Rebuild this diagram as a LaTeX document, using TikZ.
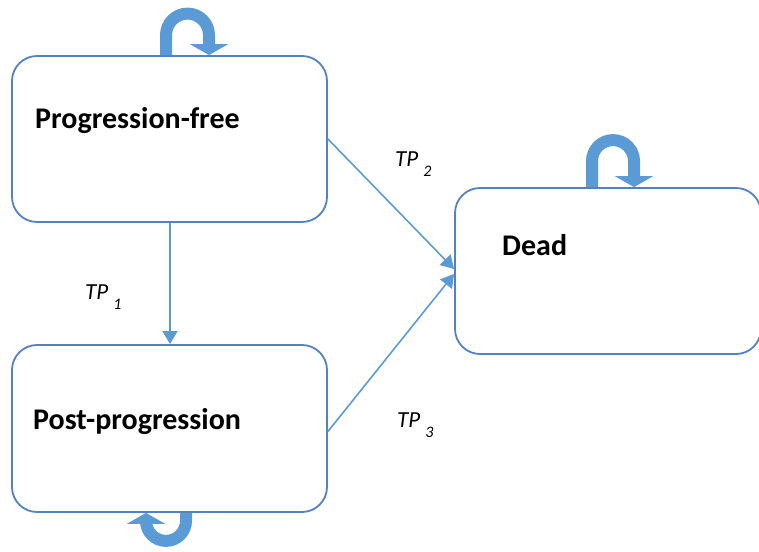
\documentclass[tikz,border=0pt]{standalone}
\usepackage{fontspec}
\setmainfont{Carlito}
\usetikzlibrary{arrows.meta}

\definecolor{boxline}{RGB}{84,130,190}
\definecolor{flowblue}{RGB}{91,155,213}

\newcommand{\tp}[1]{{\itshape TP}\hspace{5pt}\raisebox{-10pt}{\fontsize{16}{16}\selectfont\itshape #1}}

\begin{document}
\begin{tikzpicture}[x=1pt, y=1pt,
  statebox/.style={draw=boxline, line width=1.8pt, rectangle, rounded corners=25pt, fill=white},
  statetext/.style={anchor=base west, inner sep=0pt, font=\fontsize{30}{34}\selectfont\bfseries},
  tplabel/.style={anchor=base west, inner sep=0pt, font=\fontsize{23}{26}\selectfont},
  conn/.style={draw=flowblue, line width=1.6pt, -{Triangle[width=15pt, length=13pt]}},
  loop arrow/.style={draw=flowblue, line width=12pt, -{Triangle[width=38pt, length=11pt]}}]

\useasboundingbox (0,0) rectangle (759,551);

% Nodes
\node[statebox, minimum width=315pt, minimum height=166pt] (pf) at (169.5,412) {};
\node[statebox, minimum width=315pt, minimum height=167pt] (pp) at (169.5,122.5) {};
\node[statebox, minimum width=306pt, minimum height=166pt] (dead) at (608,280) {};

\node[statetext] (pf-name) at (35,422) {Progression-free};
\node[statetext] (pp-name) at (33,121) {Post-progression};
\node[statetext] (dead-name) at (502,295) {Dead};

\node[tplabel] (tp1) at (85,251) {\tp{1}};
\node[tplabel] (tp2) at (395,384) {\tp{2}};
\node[tplabel] (tp3) at (397,123) {\tp{3}};

% Arrows
\draw[conn] ([xshift=0.5]pf.south) -- ([xshift=0.5]pp.north);
\draw[conn] (pf.east) -- ([yshift=2]dead.west);
\draw[conn] ([yshift=-3]pp.east) -- ([yshift=-3]dead.west);

% Self loops
\draw[loop arrow] ([xshift=-3.5]pf.north) -- ++(0,20) arc[start angle=180, end angle=0, radius=21.5] -- ++(0,-20);
\draw[loop arrow] ([xshift=-16]dead.north) -- ++(0,26) arc[start angle=180, end angle=0, radius=21] -- ++(0,-26);
\draw[loop arrow] ([xshift=16.5]pp.south) -- ++(0,-8) arc[start angle=0, end angle=-180, radius=20] -- ++(0,8);

\end{tikzpicture}
\end{document}
